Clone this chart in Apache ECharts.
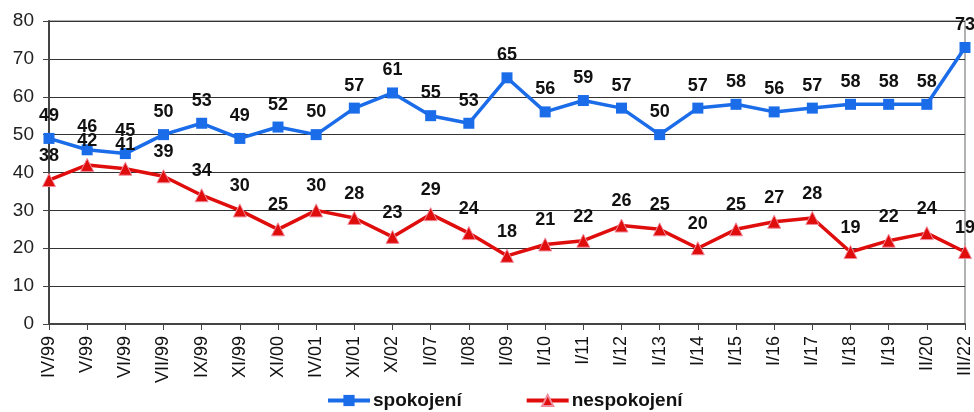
<!DOCTYPE html>
<html><head><meta charset="utf-8">
<script src="https://cdn.jsdelivr.net/npm/echarts@6/dist/echarts.min.js"></script>
<style>html,body{margin:0;padding:0;background:#fff}#c{width:974px;height:412px}</style>
</head><body><div id="c"></div>
<script>
var categories = ["IV/99","V/99","VI/99","VII/99","IX/99","XI/99","XI/00","IV/01","XI/01","X/02","I/07","I/08","I/09","I/10","I/11","I/12","I/13","I/14","I/15","I/16","I/17","I/18","I/19","II/20","III/22"];
var spokojeni = [49,46,45,50,53,49,52,50,57,61,55,53,65,56,59,57,50,57,58,56,57,58,58,58,73];
var nespokojeni = [38,42,41,39,34,30,25,30,28,23,29,24,18,21,22,26,25,20,25,27,28,19,22,24,19];
var yTicks = [0,10,20,30,40,50,60,70,80];

var chart = echarts.init(document.getElementById('c'));
var FF = 'Liberation Sans, Arial, sans-serif';
var lblStyle = {show:true, position:'top', distance:8, color:'#111', fontWeight:'bold', fontSize:18, fontFamily:FF};
chart.setOption({
  animation:false,
  backgroundColor:'#fff',
  grid:{left:49, right:9, top:21, bottom:88, show:true, borderColor:'#999', borderWidth:1.5},
  legend:{top:386, left:321, itemGap:63, itemWidth:42, itemHeight:14,
    textStyle:{fontSize:19, fontWeight:'bold', color:'#111', fontFamily:FF, padding:[0,0,0,-2]},
    data:[{name:'spokojení', lineStyle:{width:4}}, {name:'nespokojení', lineStyle:{width:4}}]},
  xAxis:{type:'category', data:categories, boundaryGap:false,
    axisLine:{lineStyle:{color:'#444', width:2}},
    axisTick:{show:true, length:6, lineStyle:{color:'#444'}},
    axisLabel:{rotate:90, fontSize:18, color:'#111', margin:12, interval:0, fontFamily:FF}},
  yAxis:{type:'value', min:yTicks[0], max:yTicks[yTicks.length-1], interval:10,
    axisLine:{show:true, lineStyle:{color:'#444', width:2}},
    axisTick:{show:true, length:6, lineStyle:{color:'#444'}},
    splitLine:{lineStyle:{color:'#333', width:1}},
    axisLabel:{fontSize:19, color:'#222', margin:15, fontFamily:FF}},
  series:[
    {name:'spokojení', type:'line', data:spokojeni, symbol:'rect', symbolSize:11,
      lineStyle:{color:'#1a6ce8', width:3.5}, itemStyle:{color:'#1a6ce8'}, label:lblStyle},
    {name:'nespokojení', type:'line', data:nespokojeni, symbol:'triangle', symbolSize:13,
      lineStyle:{color:'#e00d0d', width:3.5}, itemStyle:{color:'#e00d0d', borderColor:'#f08a9a', borderWidth:1}, label:lblStyle}
  ]
});
</script></body></html>
